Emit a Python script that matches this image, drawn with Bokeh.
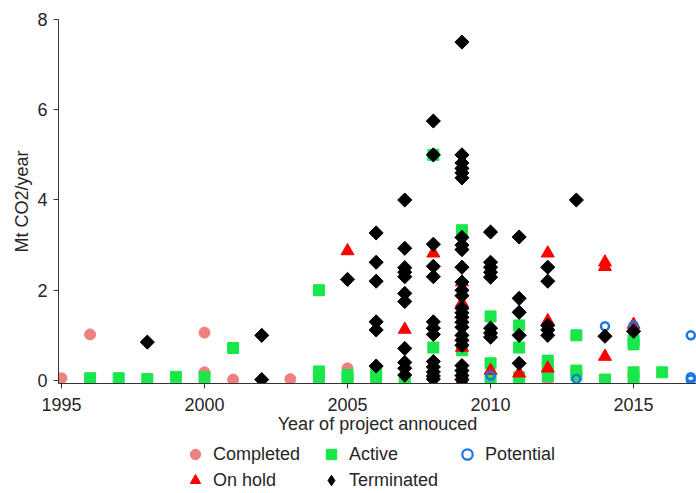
import numpy as np
from bokeh.plotting import figure
from bokeh.layouts import column
from bokeh.models import Legend, LegendItem, FixedTicker, Range1d
from bokeh.embed import file_html
from bokeh.resources import INLINE

# ---- data (year announced, Mt CO2/year) ----
completed_year = [1995, 1996, 2000, 2000, 2001, 2003, 2005, 2006, 2009, 2012]
completed_val = [0.05, 1.02, 1.06, 0.18, 0.02, 0.03, 0.27, 0.0, 0.0, 0.0]

active_year = [1996, 1997, 1998, 1999, 2000, 2001, 2004, 2004, 2004, 2005, 2005,
               2006, 2006, 2007, 2008, 2008, 2009, 2009, 2009, 2010, 2010, 2010,
               2011, 2011, 2011, 2012, 2012, 2012, 2013, 2013, 2013, 2014,
               2015, 2015, 2015, 2015, 2016]
active_val = [0.05, 0.05, 0.03, 0.08, 0.07, 0.72, 2.0, 0.2, 0.07, 0.12, 0.05,
              0.18, 0.08, 0.02, 5.0, 0.73, 3.33, 0.67, 0.1, 1.42, 0.38, 0.03,
              1.22, 0.73, 0.07, 0.44, 0.3, 0.1, 1.0, 0.22, 0.12, 0.02,
              0.89, 0.8, 0.18, 0.07, 0.18]

onhold_year = [2005, 2007, 2008, 2009, 2009, 2009, 2009, 2010, 2011,
               2012, 2012, 2012, 2014, 2014, 2014, 2015]
onhold_val = [2.87, 1.13, 2.82, 2.18, 1.72, 0.73, 0.0, 0.22, 0.16,
              2.82, 1.32, 0.27, 2.62, 2.52, 0.53, 1.24]

potential_year = [2010, 2013, 2014, 2015, 2017, 2017, 2017]
potential_val = [0.11, 0.04, 1.2, 1.22, 1.0, 0.07, 0.02]

terminated_year = ([1998, 2002, 2002, 2005]
                   + [2006] * 6 + [2007] * 11 + [2008] * 13 + [2009] * 25
                   + [2010] * 8 + [2011] * 5 + [2012] * 5 + [2013, 2014, 2015])
terminated_val = ([0.85, 1.0, 0.02, 2.24]
                  + [3.27, 2.62, 2.2, 1.3, 1.12, 0.32]
                  + [4.0, 2.93, 2.5, 2.4, 2.3, 1.93, 1.75, 0.71, 0.4, 0.27, 0.12]
                  + [5.75, 5.0, 3.02, 2.53, 2.3, 1.3, 1.16, 1.02, 0.42, 0.3, 0.19, 0.1, 0.03]
                  + [7.5, 5.0, 4.82, 4.7, 4.6, 4.49, 3.17, 3.0, 2.9, 2.51, 2.18, 2.0, 1.88,
                     1.6, 1.5, 1.4, 1.29, 1.18, 1.0, 0.89, 0.78, 0.33, 0.22, 0.11, 0.02]
                  + [3.29, 2.62, 2.51, 2.4, 2.29, 1.16, 1.05, 0.96]
                  + [3.18, 1.82, 1.51, 1.0, 0.38]
                  + [2.51, 2.2, 1.22, 1.12, 1.0]
                  + [4.0, 0.98, 1.09])

statuses = ["Completed", "Active", "Potential", "On hold", "Terminated"]
x_ticks = [1995, 2000, 2005, 2010, 2015]
y_ticks = [0, 2, 4, 6, 8]

FONT = "Liberation Sans"
TXT = "#262626"

STYLE = {
    "Completed": dict(marker="circle", size=11, fill_color="#f08080", line_color="#f08080"),
    "Active": dict(marker="square", size=11, fill_color="#19e64a", line_color="#19e64a"),
    "On hold": dict(marker="triangle", size=13, fill_color="#ff0000", line_color="#ff0000"),
    "Potential": dict(marker="circle", size=8, fill_color=None, line_color="#1a75e8", line_width=2.5),
    "Terminated": dict(marker="square", size=10, angle=np.pi / 4,
                       fill_color="#000000", line_color="#000000"),
}
# legend glyphs cannot be rotated, so the legend shows the diamond marker
LEGEND_STYLE = dict(STYLE)
LEGEND_STYLE["Terminated"] = dict(marker="diamond", size=14,
                                  fill_color="#000000", line_color="#000000")
LEGEND_STYLE["Potential"] = dict(marker="circle", size=8, fill_color=None,
                                 line_color="#1a75e8", line_width=2.2)
DATA = {
    "Completed": (completed_year, completed_val),
    "Active": (active_year, active_val),
    "On hold": (onhold_year, onhold_val),
    "Potential": (potential_year, potential_val),
    "Terminated": (terminated_year, terminated_val),
}
DRAW_ORDER = ["Completed", "Active", "On hold", "Potential", "Terminated"]

# ---- main chart ----
p = figure(width=696, height=440, output_backend="svg", toolbar_location=None,
           x_range=Range1d(1994.895, 2017.2), y_range=Range1d(-0.067, 8),
           min_border_left=58, min_border_right=0, min_border_top=19,
           min_border_bottom=57)
p.outline_line_color = None
p.xgrid.visible = False
p.ygrid.visible = False

for ax in (p.xaxis[0], p.yaxis[0]):
    ax.axis_line_color = "#333333"
    ax.major_tick_line_color = "#333333"
    ax.major_tick_out = 5
    ax.major_tick_in = 0
    ax.minor_tick_line_color = None
    ax.major_label_text_font = FONT
    ax.major_label_text_font_size = "18px"
    ax.major_label_text_color = TXT
    ax.axis_label_text_font = FONT
    ax.axis_label_text_font_size = "18px"
    ax.axis_label_text_color = TXT
    ax.axis_label_text_font_style = "normal"

p.xaxis.ticker = FixedTicker(ticks=x_ticks)
p.yaxis.ticker = FixedTicker(ticks=y_ticks)
p.xaxis.axis_label = "Year of project annouced"
p.yaxis.axis_label = "Mt CO2/year"
p.xaxis.major_label_standoff = 9
p.xaxis.axis_label_standoff = 0
p.yaxis.major_label_standoff = 6
p.yaxis.axis_label_standoff = 2

for s in DRAW_ORDER:
    xs, ys = DATA[s]
    p.scatter(xs, ys, **STYLE[s])

# ---- legend strip (same series, drawn outside its empty view) ----
q = figure(width=696, height=53, output_backend="svg", toolbar_location=None,
           x_range=Range1d(0, 1), y_range=Range1d(0, 1),
           x_axis_location=None, y_axis_location=None,
           min_border_left=0, min_border_right=0, min_border_top=0,
           min_border_bottom=0)
q.grid.visible = False
q.outline_line_color = None

leg_renderers = {}
for s in DRAW_ORDER:
    xs, ys = DATA[s]
    leg_renderers[s] = q.scatter(xs, ys, **LEGEND_STYLE[s])

# the column aligns this strip's frame with the chart's frame (58px in)
legend = Legend(items=[LegendItem(label=s, renderers=[leg_renderers[s]]) for s in statuses],
                orientation="horizontal", ncols=3, location=(124, 0),
                glyph_width=26, glyph_height=26, label_standoff=5, label_width=105,
                spacing=0, padding=0, margin=0, border_line_color=None,
                background_fill_alpha=0,
                label_text_font=FONT, label_text_font_size="18px",
                label_text_color=TXT)
q.add_layout(legend, "center")

layout = column(p, q, spacing=0)
open("out.html", "w").write(file_html(layout, INLINE))
